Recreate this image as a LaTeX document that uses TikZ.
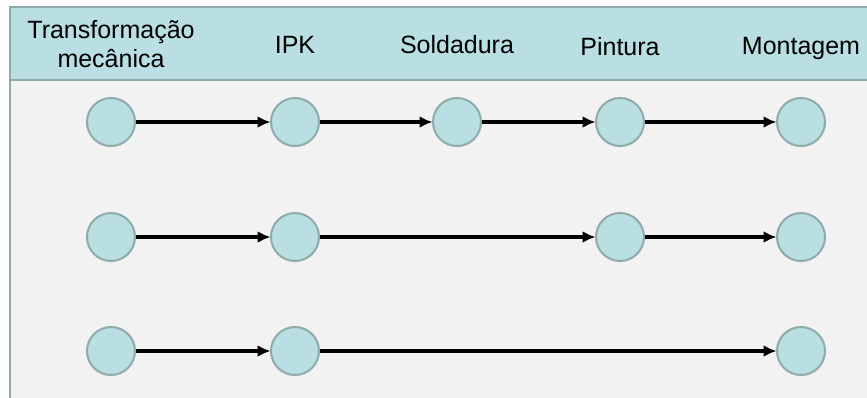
\documentclass[tikz,border=0pt]{standalone}
\usepackage{fontspec}
\setmainfont{Liberation Sans}
\usetikzlibrary{arrows.meta}
\definecolor{headfill}{HTML}{B9DFE3}
\definecolor{framecol}{HTML}{8FA9AA}
\definecolor{bodyfill}{HTML}{F2F2F2}
\definecolor{dotfill}{HTML}{B9DFE2}
\definecolor{dotline}{HTML}{8FAAAB}
\begin{document}
\begin{tikzpicture}[x=1pt,y=-1pt,
  stage/.style={circle,draw=dotline,fill=dotfill,line width=2pt,minimum size=48pt,inner sep=0pt},
  flow/.style={line width=3.4pt,-{Latex[length=13pt,width=12pt]},shorten >=-0.5pt},
  head/.style={font=\fontsize{25}{29}\selectfont,align=center,text=black,inner sep=0pt,anchor=base}]
\useasboundingbox (0,0) rectangle (867,397);
\fill[white] (0,0) rectangle (867,397);
% body and header band
\fill[bodyfill] (10,80) rectangle (870,400);
\fill[headfill] (10,7) rectangle (870,80);
\draw[framecol,line width=2pt] (870,7) -- (10,7) -- (10,400);
\draw[framecol,line width=2pt] (10,80) -- (870,80);
% column titles (base anchor sits on the last line)
\node[head] (t1) at (111,67) {Transformação\\mecânica};
\node[head] (t2) at (295,53) {IPK};
\node[head] (t3) at (457,53) {Soldadura};
\node[head] (t4) at (620,55) {Pintura};
\node[head] (t5) at (801,54) {Montagem};
% row 1
\node[stage] (a1) at (111,122) {};
\node[stage] (a2) at (295,122) {};
\node[stage] (a3) at (457,122) {};
\node[stage] (a4) at (620,122) {};
\node[stage] (a5) at (801,122) {};
% row 2
\node[stage] (b1) at (111,237) {};
\node[stage] (b2) at (295,237) {};
\node[stage] (b4) at (620,237) {};
\node[stage] (b5) at (801,237) {};
% row 3
\node[stage] (c1) at (111,351) {};
\node[stage] (c2) at (295,351) {};
\node[stage] (c5) at (801,351) {};
% connectors
\draw[flow] (a1) -- (a2);
\draw[flow] (a2) -- (a3);
\draw[flow] (a3) -- (a4);
\draw[flow] (a4) -- (a5);
\draw[flow] (b1) -- (b2);
\draw[flow] (b2) -- (b4);
\draw[flow] (b4) -- (b5);
\draw[flow] (c1) -- (c2);
\draw[flow] (c2) -- (c5);
\end{tikzpicture}
\end{document}
